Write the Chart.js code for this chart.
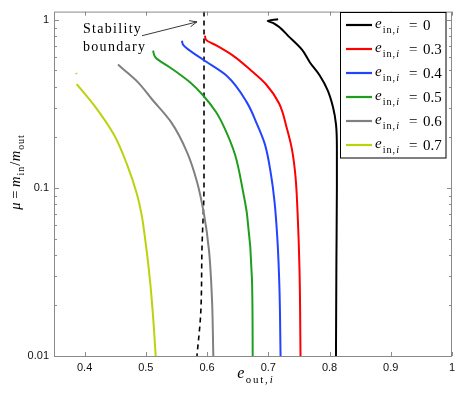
<!DOCTYPE html>
<html>
<head>
<meta charset="utf-8">
<script src="https://cdn.jsdelivr.net/npm/chart.js@4.4.1/dist/chart.umd.min.js"></script>
<style>
  html, body { margin: 0; padding: 0; background: #fff; }
  #wrap { width: 463px; height: 398px; }
</style>
</head>
<body>
<div id="wrap"><canvas id="chart" width="463" height="398"></canvas></div>
<script>
// axes
const xTicks = [0.4, 0.5, 0.6, 0.7, 0.8, 0.9, 1]
const yTicks = [0.01, 0.02, 0.03, 0.04, 0.05, 0.06, 0.07, 0.08, 0.09,
  0.1, 0.2, 0.3, 0.4, 0.5, 0.6, 0.7, 0.8, 0.9, 1]
const yLabeled = [0.01, 0.1, 1]

// legend values of e_in,i
const eInValues = ["0", "0.3", "0.4", "0.5", "0.6", "0.7"]
const colors = ["#000000", "#ff0000", "#2244ff", "#1d9e1d", "#808080", "#bcd20c"]

// curves, y decreasing along each curve
const e00X = [0.716, 0.699, 0.7076, 0.7354, 0.755, 0.768, 0.784, 0.797, 0.8056, 0.8105, 0.812, 0.812, 0.8112, 0.8105]
const e00Y = [1.01, 0.985, 0.959, 0.784, 0.665, 0.558, 0.467, 0.381, 0.303, 0.240, 0.176, 0.102, 0.036, 0.01]

const e03X = [0.5966, 0.5982, 0.6157, 0.6423, 0.670, 0.6962, 0.7175, 0.7306, 0.7387, 0.7444, 0.7477, 0.751, 0.7526]
const e03Y = [0.805, 0.762, 0.703, 0.613, 0.507, 0.414, 0.319, 0.224, 0.169, 0.117, 0.0727, 0.0322, 0.01]

const e04X = [0.559, 0.5607, 0.5933, 0.632, 0.6647, 0.6815, 0.6946, 0.7044, 0.7101, 0.715, 0.7183, 0.720]
const e04Y = [0.752, 0.712, 0.581, 0.465, 0.324, 0.240, 0.181, 0.120, 0.0833, 0.0484, 0.0245, 0.01]

const e05X = [0.5117, 0.5158, 0.5395, 0.5721, 0.5933, 0.6146, 0.6276, 0.6456, 0.6587, 0.6652, 0.6734, 0.6745]
const e05Y = [0.656, 0.597, 0.521, 0.425, 0.356, 0.283, 0.231, 0.158, 0.0953, 0.0698, 0.0281, 0.01]

const e06X = [0.4545, 0.4627, 0.4872, 0.510, 0.541, 0.567, 0.5835, 0.595, 0.6032, 0.6081, 0.6102]
const e06Y = [0.543, 0.511, 0.425, 0.337, 0.247, 0.164, 0.109, 0.0698, 0.0422, 0.0214, 0.01]

const e07X = [0.3865, 0.3868, null, 0.387, 0.4153, 0.448, 0.4692, 0.4855, 0.4929, 0.5003, 0.5068, 0.5117, 0.5161]
const e07Y = [0.484, 0.476, null, 0.415, 0.311, 0.207, 0.138, 0.0916, 0.0698, 0.0452, 0.0281, 0.0174, 0.01]

// stability boundary (dashed)
const stabX = [0.595, 0.595, 0.5917, 0.5896, 0.5835]
const stabY = [1.12, 0.105, 0.044, 0.0179, 0.01]

const curvesX = [e00X, e03X, e04X, e05X, e06X, e07X]
const curvesY = [e00Y, e03Y, e04Y, e05Y, e06Y, e07Y]

function toPoints(xs, ys) {
  return xs.map((x, i) => ({ x: x, y: ys[i] }))
}

const SERIF = '"Liberation Serif", "DejaVu Serif", serif'

// short math strings: parts = [{t, it, sub, ls, gap}]
function mathWidth(ctx, parts, size) {
  let w = 0
  for (const p of parts) {
    const fs = p.sub ? size * 0.68 : size
    ctx.font = `${p.it ? "italic " : ""}${fs}px ${SERIF}`
    ctx.letterSpacing = (p.ls || 0) + "px"
    w += ctx.measureText(p.t).width + (p.gap || 0)
  }
  ctx.letterSpacing = "0px"
  return w
}

function drawMath(ctx, parts, x, y, size) {
  let cx = x
  for (const p of parts) {
    const fs = p.sub ? size * 0.68 : size
    ctx.font = `${p.it ? "italic " : ""}${fs}px ${SERIF}`
    ctx.letterSpacing = (p.ls || 0) + "px"
    ctx.fillText(p.t, cx, y + (p.sub ? size * 0.3 : 0))
    cx += ctx.measureText(p.t).width + (p.gap || 0)
  }
  ctx.letterSpacing = "0px"
}

const decorations = {
  id: "decorations",
  afterDraw(chart) {
    const ctx = chart.ctx
    const area = chart.chartArea
    const xs = chart.scales.x
    const ys = chart.scales.y
    ctx.save()

    // frame
    ctx.strokeStyle = "#8a8a8a"
    ctx.lineWidth = 1
    ctx.strokeRect(area.left + 0.5, area.top + 0.5, area.right - area.left - 1, area.bottom - area.top)

    // inward ticks
    ctx.beginPath()
    xTicks.forEach((v) => {
      const px = Math.round(xs.getPixelForValue(v)) + 0.5
      ctx.moveTo(px, area.bottom); ctx.lineTo(px, area.bottom - 4)
      ctx.moveTo(px, area.top); ctx.lineTo(px, area.top + 4)
    })
    yTicks.forEach((v) => {
      const py = Math.round(ys.getPixelForValue(v)) + 0.5
      const len = yLabeled.includes(v) ? 5 : 3
      ctx.moveTo(area.left, py); ctx.lineTo(area.left + len, py)
      ctx.moveTo(area.right, py); ctx.lineTo(area.right - len, py)
    })
    ctx.stroke()

    ctx.fillStyle = "#000"
    ctx.textBaseline = "alphabetic"

    // x title
    const xParts = [{ t: "e", it: true, gap: 1.5 }, { t: "out", sub: true, ls: 1.8 }, { t: ",", sub: true, gap: 2 }, { t: "i", sub: true, it: true }]
    const xw = mathWidth(ctx, xParts, 16)
    drawMath(ctx, xParts, 255 - xw / 2, 378, 16)

    // y title
    const yParts = [{ t: "\u03bc", it: true }, { t: " = " }, { t: "m", it: true, gap: 1 }, { t: "in", sub: true, ls: 1 },
      { t: "/", gap: 0.5 }, { t: "m", it: true, gap: 1 }, { t: "out", sub: true, ls: 1 }]
    ctx.save()
    ctx.translate(20, 172)
    ctx.rotate(-Math.PI / 2)
    const yw = mathWidth(ctx, yParts, 14.5)
    drawMath(ctx, yParts, -yw / 2, 0, 14.5)
    ctx.restore()

    // annotation
    ctx.font = `14px ${SERIF}`
    ctx.letterSpacing = "1.3px"
    ctx.fillText("Stability", xs.getPixelForValue(0.3974), ys.getPixelForValue(0.897) + 5)
    ctx.fillText("boundary", xs.getPixelForValue(0.3974), ys.getPixelForValue(0.702) + 5)
    ctx.letterSpacing = "0px"
    const ax0 = xs.getPixelForValue(0.4937), ay0 = ys.getPixelForValue(0.805)
    const ax1 = xs.getPixelForValue(0.5835), ay1 = ys.getPixelForValue(0.973)
    const ang = Math.atan2(ay1 - ay0, ax1 - ax0)
    ctx.strokeStyle = "#222"
    ctx.lineWidth = 0.9
    ctx.beginPath()
    ctx.moveTo(ax0, ay0); ctx.lineTo(ax1, ay1)
    ctx.moveTo(ax1 - 8 * Math.cos(ang - 0.4), ay1 - 8 * Math.sin(ang - 0.4))
    ctx.lineTo(ax1, ay1)
    ctx.lineTo(ax1 - 8 * Math.cos(ang + 0.4), ay1 - 8 * Math.sin(ang + 0.4))
    ctx.stroke()

    // legend
    ctx.fillStyle = "#fff"
    ctx.fillRect(340.5, 12.5, 105.5, 145.5)
    ctx.strokeStyle = "#000"
    ctx.lineWidth = 1
    ctx.strokeRect(340.5, 12.5, 105.5, 145.5)
    eInValues.forEach((val, i) => {
      const ry = 25 + i * 24
      ctx.strokeStyle = colors[i]
      ctx.lineWidth = 2.2
      ctx.beginPath()
      ctx.moveTo(346, ry); ctx.lineTo(372, ry)
      ctx.stroke()
      ctx.fillStyle = "#000"
      drawMath(ctx, [{ t: "e", it: true, gap: 1 }, { t: "in", sub: true, ls: 1 }, { t: ",", sub: true, gap: 1 }, { t: "i", sub: true, it: true }], 375, ry + 3, 15)
      ctx.font = `15px ${SERIF}`
      ctx.fillText("=", 409, ry + 5)
      ctx.fillText(val, 423, ry + 5)
    })
    ctx.restore()
  },
}

const datasets = curvesX.map((xs, i) => ({
  label: "e_in,i = " + eInValues[i],
  data: toPoints(xs, curvesY[i]),
  borderColor: colors[i],
  borderWidth: 2,
  pointRadius: 0,
  cubicInterpolationMode: "monotone",
  spanGaps: false,
}))
datasets.push({
  label: "Stability boundary",
  data: toPoints(stabX, stabY),
  borderColor: "#000",
  borderWidth: 1.6,
  borderDash: [5, 4],
  pointRadius: 0,
  cubicInterpolationMode: "monotone",
})

new Chart(document.getElementById("chart"), {
  type: "line",
  data: { datasets: datasets },
  options: {
    indexAxis: "y",
    responsive: false,
    animation: false,
    layout: { padding: { top: 9, right: 11, left: 0, bottom: 0 } },
    plugins: { legend: { display: false }, tooltip: { enabled: false } },
    scales: {
      x: {
        type: "linear",
        min: 0.35,
        max: 1,
        afterBuildTicks: (s) => { s.ticks = xTicks.map((v) => ({ value: v })) },
        afterFit: (s) => { s.height = 42 },
        grid: { display: false, drawTicks: false },
        border: { display: false },
        ticks: {
          padding: 5,
          color: "#111",
          font: { family: "Liberation Sans", size: 11 },
          maxRotation: 0,
          callback: (v) => String(v),
        },
      },
      y: {
        type: "logarithmic",
        min: 0.01,
        max: 1.12,
        afterBuildTicks: (s) => { s.ticks = yTicks.map((v) => ({ value: v })) },
        afterFit: (s) => { s.width = 54 },
        grid: { display: false, drawTicks: false },
        border: { display: false },
        ticks: {
          padding: 5,
          autoSkip: false,
          color: "#111",
          font: { family: "Liberation Sans", size: 11 },
          callback: (v) => (yLabeled.includes(v) ? String(v) : ""),
        },
      },
    },
  },
  plugins: [decorations],
})
</script>
</body>
</html>
